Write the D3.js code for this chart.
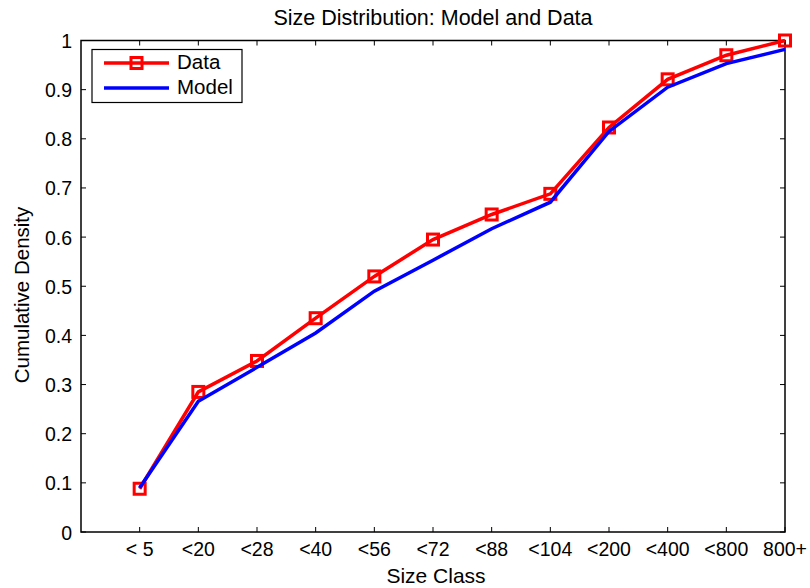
<!DOCTYPE html>
<html>
<head>
<meta charset="utf-8">
<script src="https://cdn.jsdelivr.net/npm/d3@7"></script>
<style>
  body { margin: 0; background: #fff; }
  text { font-family: "Liberation Sans", Arial, sans-serif; fill: #000; }
</style>
</head>
<body>
<svg id="chart" width="810" height="588"></svg>
<script>
var sizeClasses = ['< 5', '<20', '<28', '<40', '<56', '<72', '<88', '<104', '<200', '<400', '<800', '800+'];
var dataValues = [0.088, 0.285, 0.348, 0.435, 0.520, 0.595, 0.646, 0.688, 0.823, 0.921, 0.970, 1.0];
var modelValues = [0.090, 0.266, 0.335, 0.405, 0.490, 0.553, 0.617, 0.671, 0.815, 0.905, 0.953, 0.982];
var yTicks = [0, 0.1, 0.2, 0.3, 0.4, 0.5, 0.6, 0.7, 0.8, 0.9, 1];

var plotLeft = 81, plotRight = 785, plotTop = 40.5, plotBottom = 532;
var svg = d3.select('#chart');

var xScale = d3.scaleLinear().domain([0, sizeClasses.length]).range([plotLeft, plotRight]);
var yScale = d3.scaleLinear().domain([0, 1]).range([plotBottom, plotTop]);

var tickLen = 5;
var markerSize = 11;
var xIdx = d3.range(1, sizeClasses.length + 1);

// x ticks (bottom & top, inward)
xIdx.forEach(function (i) {
    var x = xScale(i);
    svg.append('line').attr('x1', x).attr('x2', x).attr('y1', plotBottom).attr('y2', plotBottom - tickLen)
        .style('stroke', '#000');
    svg.append('line').attr('x1', x).attr('x2', x).attr('y1', plotTop).attr('y2', plotTop + tickLen)
        .style('stroke', '#000');
    svg.append('text')
        .attr('x', x).attr('y', 556)
        .attr('text-anchor', 'middle')
        .style('font-size', '19.5px')
        .text(sizeClasses[i - 1]);
});

// y ticks (left & right, inward)
yTicks.forEach(function (v) {
    var y = yScale(v);
    svg.append('line').attr('x1', plotLeft).attr('x2', plotLeft + tickLen).attr('y1', y).attr('y2', y)
        .style('stroke', '#000');
    svg.append('line').attr('x1', plotRight).attr('x2', plotRight - tickLen).attr('y1', y).attr('y2', y)
        .style('stroke', '#000');
    svg.append('text')
        .attr('x', 72).attr('y', y + 7.5)
        .attr('text-anchor', 'end')
        .style('font-size', '19.5px')
        .text(d3.format('~g')(v));
});

// box
svg.append('rect')
    .attr('x', plotLeft).attr('y', plotTop)
    .attr('width', plotRight - plotLeft).attr('height', plotBottom - plotTop)
    .style('fill', 'none').style('stroke', '#000').style('stroke-width', 1.5);

// titles
svg.append('text')
    .attr('x', 433).attr('y', 25)
    .attr('text-anchor', 'middle')
    .style('font-size', '21.5px')
    .text('Size Distribution: Model and Data');
svg.append('text')
    .attr('x', 436).attr('y', 583)
    .attr('text-anchor', 'middle')
    .style('font-size', '21px')
    .text('Size Class');
svg.append('text')
    .attr('transform', 'translate(29,295) rotate(-90)')
    .attr('text-anchor', 'middle')
    .style('font-size', '20.5px')
    .text('Cumulative Density');

var line = d3.line()
    .x(function (d, i) { return xScale(i + 1); })
    .y(function (d) { return yScale(d); });

svg.append('path')
    .datum(dataValues)
    .attr('d', line)
    .style('fill', 'none').style('stroke', '#ff0000').style('stroke-width', 3.5);

svg.selectAll('.marker')
    .data(dataValues)
    .enter()
    .append('rect')
    .attr('class', 'marker')
    .attr('x', function (d, i) { return xScale(i + 1) - markerSize / 2; })
    .attr('y', function (d) { return yScale(d) - markerSize / 2; })
    .attr('width', markerSize).attr('height', markerSize)
    .style('fill', 'none').style('stroke', '#ff0000').style('stroke-width', 3);

svg.append('path')
    .datum(modelValues)
    .attr('d', line)
    .style('fill', 'none').style('stroke', '#0000ff').style('stroke-width', 3.5);

// legend
var lg = svg.append('g');
lg.append('rect')
    .attr('x', 92).attr('y', 49.5).attr('width', 150).attr('height', 53)
    .style('fill', '#fff').style('stroke', '#000').style('stroke-width', 1.2);
lg.append('line').attr('x1', 104).attr('x2', 169).attr('y1', 63).attr('y2', 63)
    .style('stroke', '#ff0000').style('stroke-width', 3.5);
lg.append('rect').attr('x', 136.5 - markerSize / 2).attr('y', 63 - markerSize / 2)
    .attr('width', markerSize).attr('height', markerSize)
    .style('fill', 'none').style('stroke', '#ff0000').style('stroke-width', 3);
lg.append('text').attr('x', 177).attr('y', 68.5).style('font-size', '20.5px').text('Data');
lg.append('line').attr('x1', 104).attr('x2', 169).attr('y1', 88).attr('y2', 88)
    .style('stroke', '#0000ff').style('stroke-width', 3.5);
lg.append('text').attr('x', 177).attr('y', 93.5).style('font-size', '20.5px').text('Model');
</script>
</body>
</html>
